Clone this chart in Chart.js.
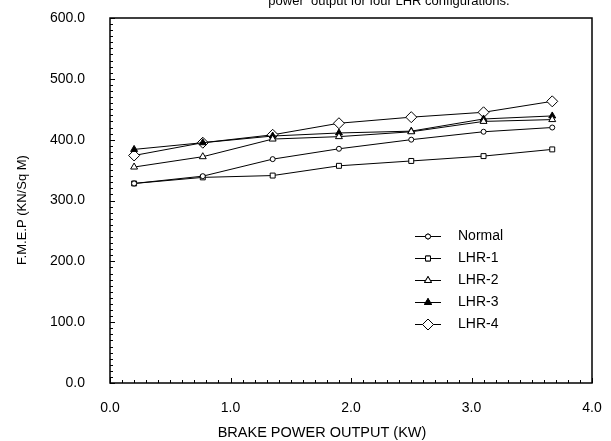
<!DOCTYPE html>
<html>
<head>
<meta charset="utf-8">
<script src="https://cdn.jsdelivr.net/npm/chart.js@4.4.1/dist/chart.umd.min.js"></script>
<style>
  html, body { margin:0; padding:0; background:#fff; }
  #wrap { width:611px; height:441px; position:relative; }
</style>
</head>
<body>
<div id="wrap"><canvas id="c" width="611" height="441"></canvas></div>
<script>
// brake power output (kW) at each test point
const power = [0.2, 0.77, 1.35, 1.9, 2.5, 3.1, 3.67];

// F.M.E.P (kN/sq m)
const normal = [328, 340, 368, 385, 400, 413, 420];
const lhr1   = [328, 338, 341, 357, 365, 373, 384];
const lhr2   = [355, 372, 401, 405, 413, 430, 433];
const lhr3   = [384, 395, 406, 411, 414, 434, 439];
const lhr4   = [374, 395, 408, 427, 437, 445, 463];

const seriesNames = ['Normal', 'LHR-1', 'LHR-2', 'LHR-3', 'LHR-4'];
const FONT = '"Liberation Sans", Arial, sans-serif';

const pts = arr => arr.map((v, i) => ({x: power[i], y: v}));

function ds(label, data, style, r, fill){
  return {
    label, data: pts(data),
    borderColor:'#000', borderWidth:1,
    pointStyle:style, pointRadius:r, pointHoverRadius:r,
    pointBackgroundColor: fill ? '#000' : '#fff',
    pointBorderColor:'#000', pointBorderWidth:1,
    tension:0
  };
}

/* inward tick marks, frame, legend, axis titles and clipped title */
const decor = {
  id:'decor',
  afterDraw(chart){
    const {ctx, chartArea:a, scales:{x, y}} = chart;
    ctx.save();
    ctx.strokeStyle = '#000';
    ctx.lineWidth = 1;
    ctx.beginPath();
    for (let v = 0; v <= 600; v += 10){
      const py = Math.round(y.getPixelForValue(v)) + 0.5;
      const len = (v % 100 === 0) ? 5 : 3;
      ctx.moveTo(a.left, py); ctx.lineTo(a.left + len, py);
    }
    for (let i = 0; i <= 40; i++){
      const px = Math.round(x.getPixelForValue(i / 10)) + 0.5;
      const len = (i % 10 === 0) ? 5 : 3;
      ctx.moveTo(px, a.bottom); ctx.lineTo(px, a.bottom - len);
    }
    ctx.stroke();
    ctx.lineWidth = 1.5;
    ctx.strokeRect(a.left, a.top, a.right - a.left, a.bottom - a.top);

    // legend
    ctx.font = '14px ' + FONT;
    ctx.fillStyle = '#000';
    ctx.textBaseline = 'middle';
    chart.data.datasets.forEach((d, i) => {
      const ly = 236 + i * 22;
      ctx.lineWidth = 1;
      ctx.beginPath();
      ctx.moveTo(415, ly + 0.5); ctx.lineTo(441, ly + 0.5);
      ctx.stroke();
      ctx.fillStyle = d.pointBackgroundColor;
      Chart.helpers.drawPoint(ctx, {pointStyle:d.pointStyle, radius:d.pointRadius, borderWidth:1}, 428, ly + 0.5);
      ctx.fill(); ctx.stroke();
      ctx.fillStyle = '#000';
      ctx.fillText(seriesNames[i], 458, ly);
    });

    // axis titles
    ctx.textAlign = 'center';
    ctx.font = '14.5px ' + FONT;
    ctx.fillText('BRAKE POWER OUTPUT (KW)', 322, 433);
    ctx.save();
    ctx.translate(22, 210);
    ctx.rotate(-Math.PI / 2);
    ctx.font = '13px ' + FONT;
    ctx.fillText('F.M.E.P (KN/Sq M)', 0, 0);
    ctx.restore();

    // title (top part cut off in the source)
    ctx.font = '13px ' + FONT;
    ctx.textBaseline = 'alphabetic';
    ctx.fillText('power  output for four LHR configurations.', 389, 5);
    ctx.restore();
  }
};

new Chart(document.getElementById('c'), {
  type:'line',
  data:{ datasets:[
    ds(seriesNames[0], normal, 'circle', 2.5, false),
    ds(seriesNames[1], lhr1, 'rect', 3.5, false),
    ds(seriesNames[2], lhr2, 'triangle', 4, false),
    ds(seriesNames[3], lhr3, 'triangle', 4, true),
    ds(seriesNames[4], lhr4, 'rectRot', 5.5, false)
  ]},
  options:{
    responsive:false, animation:false, events:[],
    layout:{ padding:{ left:0, right:19, top:18, bottom:0 } },
    plugins:{ legend:{display:false}, tooltip:{enabled:false} },
    scales:{
      x:{
        type:'linear', min:0, max:4,
        afterFit(s){ s.height = 58; s.paddingLeft = 0; s.paddingRight = 0; },
        grid:{ display:false, drawTicks:false },
        border:{ display:false },
        ticks:{
          stepSize:0.1, autoSkip:false, maxRotation:0, padding:17,
          color:'#000', font:{family:FONT, size:14},
          callback:v => Math.abs(v - Math.round(v)) < 1e-6 ? Math.round(v).toFixed(1) : ''
        }
      },
      y:{
        min:0, max:600,
        afterFit(s){ s.width = 110; s.paddingTop = 0; s.paddingBottom = 0; },
        grid:{ display:false, drawTicks:false },
        border:{ display:false },
        ticks:{
          stepSize:10, autoSkip:false, padding:25,
          color:'#000', font:{family:FONT, size:14},
          callback:v => v % 100 === 0 ? v.toFixed(1) : ''
        }
      }
    }
  },
  plugins:[decor]
});
</script>
</body>
</html>
